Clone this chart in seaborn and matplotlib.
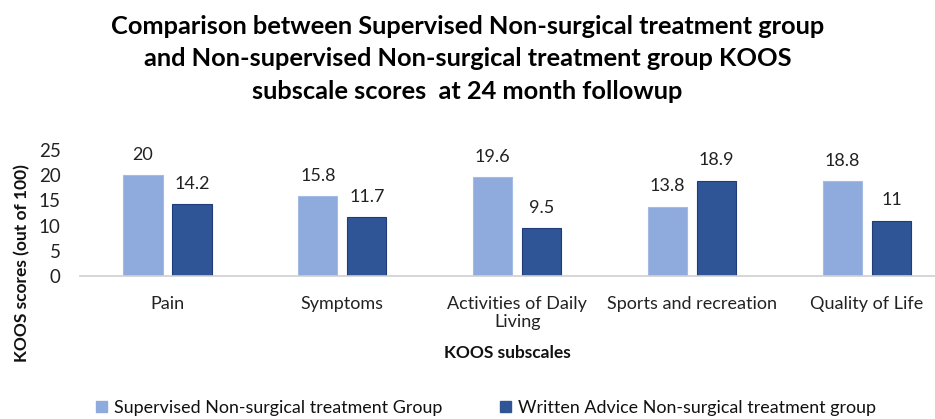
import pandas as pd
import matplotlib
matplotlib.use("Agg")
import matplotlib.pyplot as plt
import seaborn as sns

# ----------------------------
# data
# ----------------------------
subscales = ['Pain', 'Symptoms', 'Activities of Daily\nLiving', 'Sports and recreation', 'Quality of Life']
groups = ['Supervised Non-surgical treatment Group', 'Written Advice Non-surgical treatment group']
supervised = [20, 15.8, 19.6, 13.8, 18.8]
written = [14.2, 11.7, 9.5, 18.9, 11]
value_labels = [['20', '15.8', '19.6', '13.8', '18.8'], ['14.2', '11.7', '9.5', '18.9', '11']]

df = pd.DataFrame({
    'subscale': subscales * 2,
    'group': [groups[0]] * 5 + [groups[1]] * 5,
    'score': supervised + written,
})

sns.set_theme(style='white')
plt.rcParams['font.family'] = ['Lato', 'DejaVu Sans']

colors = ['#8FAADC', '#2F5597']

fig = plt.figure(figsize=(9.35, 4.19), dpi=100)
ax = fig.add_axes([0.0856, 0.341, 0.9144, 0.301])

sns.barplot(data=df, x='subscale', y='score', hue='group', order=subscales, hue_order=groups,
            palette=colors, saturation=1, width=0.56, gap=0.2, ax=ax, legend=False)

# bar edges like the original (dark bars have a slightly darker outline)
for i, cont in enumerate(ax.containers):
    for bar in cont:
        bar.set_edgecolor('#A4BBE4' if i == 0 else '#1F3C78')
        bar.set_linewidth(0.8)
    ax.bar_label(cont, labels=value_labels[i], padding=9, fontsize=13, color='#222222')

ax.set_ylim(0, 25)
ax.set_yticks([0, 5, 10, 15, 20, 25])
ax.set_xlim(-0.5, 4.389)
ax.tick_params(axis='y', labelsize=13.5, pad=14, length=0, colors='#222222')
ax.tick_params(axis='x', labelsize=13, pad=14, length=0, colors='#222222')

sns.despine(ax=ax, left=True, top=True, right=True)
ax.spines['bottom'].set_color('#D0D0D0')
ax.spines['bottom'].set_linewidth(1.2)

ax.set_ylabel('KOOS scores (out of 100)', fontsize=12.5, fontweight='bold', color='#111111')
ax.yaxis.set_label_coords(-0.058, 0.1)
ax.set_xlabel('KOOS subscales', fontsize=12.5, fontweight='bold', labelpad=11, color='#111111')

fig.text(0.5, 1 - 15 / 419,
         'Comparison between Supervised Non-surgical treatment group\n'
         'and Non-supervised Non-surgical treatment group KOOS\n'
         'subscale scores  at 24 month followup',
         ha='center', va='top', fontsize=18.3, fontweight='bold', linespacing=1.5, color='black')

# legend
handles = [plt.Rectangle((0, 0), 1, 1, color=c) for c in colors]
fig.legend(handles, groups, loc='center', bbox_to_anchor=(486 / 935, 1 - 408 / 419), ncol=2,
           frameon=False, fontsize=12.9, handlelength=0.6, handleheight=0.6, handletextpad=0.4,
           columnspacing=3.2, labelcolor='#111111')

fig.savefig('out.png', dpi=100)
